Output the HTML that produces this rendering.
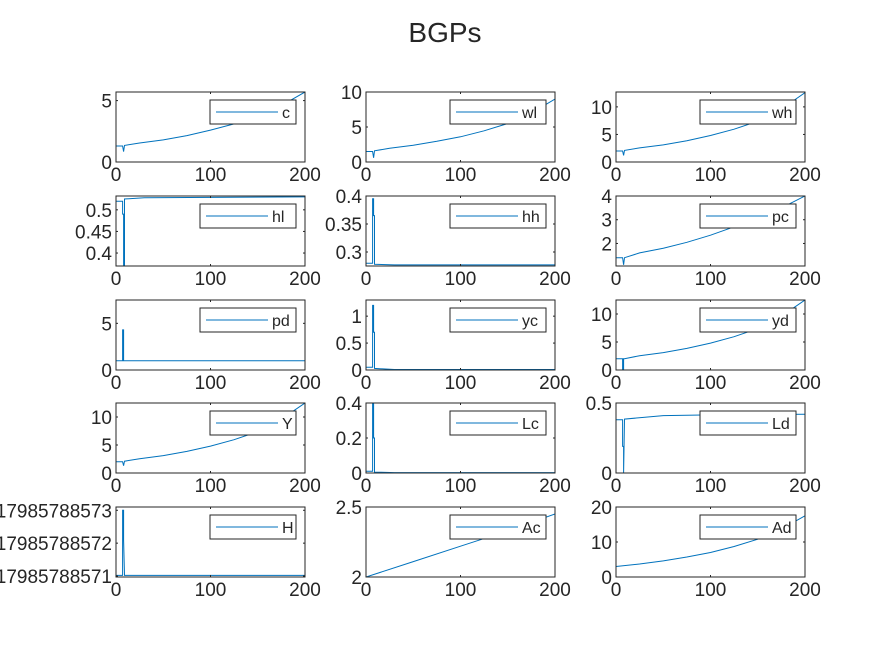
<!DOCTYPE html>
<html><head><meta charset="utf-8"><style>
body{margin:0;background:#fff;}
svg{display:block;font-family:"Liberation Sans","DejaVu Sans",sans-serif;}
</style></head><body>
<svg id="fig" width="891" height="645" viewBox="0 0 891 645">
<rect width="891" height="645" fill="#fff"/>
<text x="445" y="42" font-size="28" text-anchor="middle" fill="#262626">BGPs</text>
</svg>
<script>
// data per subplot: names, x points, y points, y limits, y ticks
const names = ["c","wl","wh","hl","hh","pc","pd","yc","yd","Y","Lc","Ld","H","Ac","Ad"];
const xs = [
 [0,7,8,9,25,50,75,100,125,150,175,200],
 [0,7,8,9,25,50,75,100,125,150,175,200],
 [0,7,8,9,25,50,75,100,125,150,175,200],
 [0,7,7,8,8,9,9,30,200],
 [0,7,7,8,8,9,9,30,200],
 [0,7,8,9,25,50,75,100,125,150,175,200],
 [0,7,7,8,8,9,200],
 [0,7,7,8,8,9,9,30,200],
 [0,7,7,8,8,9,25,50,75,100,125,150,175,200],
 [0,7,8,9,25,50,75,100,125,150,175,200],
 [0,7,7,8,8,9,9,30,200],
 [0,7,7,8,8,9,50,100,200],
 [0,7,7,8,8,9,200],
 [0,50,100,150,200],
 [0,25,50,75,100,125,150,175,200]
];
const ys = [
 [1.3,1.3,0.85,1.35,1.55,1.8,2.15,2.6,3.1,3.8,4.6,5.7],
 [1.5,1.5,0.6,1.6,1.95,2.4,2.95,3.6,4.45,5.5,7,9],
 [2,2,1.2,2.1,2.55,3.1,3.85,4.8,5.95,7.4,9.6,12.6],
 [0.52,0.52,0.49,0.49,0.37,0.37,0.525,0.528,0.53],
 [0.28,0.28,0.395,0.395,0.365,0.365,0.278,0.277,0.277],
 [1.4,1.4,1.1,1.4,1.6,1.8,2.05,2.35,2.7,3.1,3.5,4],
 [1,1,4.3,4.3,1,1,1],
 [0.05,0.05,1.2,1.2,0.7,0.7,0.03,0.01,0.01],
 [2,2,0,0,2,2,2.55,3.1,3.85,4.8,5.95,7.4,9.6,12.5],
 [2,2,1.3,2.1,2.55,3.1,3.85,4.8,5.95,7.4,9.6,12.5],
 [0.01,0.01,0.4,0.4,0.2,0.2,0.005,0.002,0.002],
 [0.38,0.38,0.19,0.19,0,0.385,0.41,0.415,0.42],
 [0.02,0.02,2,2,1.1,0.02,0.02],
 [2,2.11,2.22,2.33,2.45],
 [3,3.7,4.6,5.7,7,8.7,10.8,13.7,17.5]
];
const ylims = [[0,5.7],[0,10],[0,12.7],[0.37,0.532],[0.275,0.4],[1.05,4],[0,7.5],[0,1.3],[0,12.5],[0,12.5],[0,0.4],[0,0.5],[-0.03,2.1],[2,2.5],[0,20]];
const yticks = [[0,5],[0,5,10],[0,5,10],[0.4,0.45,0.5],[0.3,0.35,0.4],[2,3,4],[0,5],[0,0.5,1],[0,5,10],[0,5,10],[0,0.2,0.4],[0,0.5],[0,1,2],[2,2.5],[0,10,20]];
const ytickLabels = [["0","5"],["0","5","10"],["0","5","10"],["0.4","0.45","0.5"],["0.3","0.35","0.4"],["2","3","4"],["0","5"],["0","0.5","1"],["0","5","10"],["0","5","10"],["0","0.2","0.4"],["0","0.5"],["0.17985788571","0.17985788572","0.17985788573"],["2","2.5"],["0","10","20"]];
const xticks = [0,100,200];
const xtickLabels = ["0","100","200"];

const svg = document.getElementById('fig');
const NS = "http://www.w3.org/2000/svg";
const colL = [116,366,616], W = 189, rowT = [92,196,300,403,507], H = 70;
function mk(tag, attrs){const e=document.createElementNS(NS,tag);for(const k in attrs)e.setAttribute(k,attrs[k]);return e;}
names.forEach((nm,i)=>{
  const L = colL[i%3], T = rowT[Math.floor(i/3)];
  const g = mk('g',{});
  
  
  svg.appendChild(g);
  const [y0,y1] = ylims[i];
  const sx = v => L + v/200*W;
  const sy = v => T + H - (v-y0)/(y1-y0)*H;
  const clip = mk('clipPath',{id:'cl'+i}); clip.appendChild(mk('rect',{x:L,y:T,width:W,height:H})); g.appendChild(clip);
  let d = xs[i].map((x,k)=>(k?'L':'M')+sx(x).toFixed(1)+' '+sy(ys[i][k]).toFixed(1)).join(' ');
  const line = mk('path',{d:d,fill:'none',stroke:'#0072bd','stroke-width':1,'clip-path':'url(#cl'+i+')'});
  
  
  g.appendChild(line);
  const box = mk('rect',{x:L,y:T,width:W,height:H,fill:'none',stroke:'#262626','stroke-width':1});
  
  
  g.appendChild(box);
  xticks.forEach((t,k)=>{
    const x = sx(t);
    g.appendChild(mk('line',{x1:x,x2:x,y1:T+H,y2:T+H-2,stroke:'#262626'}));
    g.appendChild(mk('line',{x1:x,x2:x,y1:T,y2:T+2,stroke:'#262626'}));
    const tx = mk('text',{x:x,y:T+H+19,'font-size':19,'text-anchor':'middle',fill:'#262626'});
    tx.textContent = xtickLabels[k];
    
    
    g.appendChild(tx);
  });
  yticks[i].forEach((t,k)=>{
    const y = sy(t);
    g.appendChild(mk('line',{x1:L,x2:L+2,y1:y,y2:y,stroke:'#262626'}));
    g.appendChild(mk('line',{x1:L+W,x2:L+W-2,y1:y,y2:y,stroke:'#262626'}));
    const ty = mk('text',{x:L-4,y:y+7,'font-size':19,'text-anchor':'end',fill:'#262626'});
    ty.textContent = ytickLabels[i][k];
    
    
    g.appendChild(ty);
  });
  const tw = nm.length*10 + 2;
  const lw = 74 + tw, lr = L+W-9, ll = lr-lw, lt = T+8;
  const lg = mk('g',{});
  
  
  lg.appendChild(mk('rect',{x:ll,y:lt,width:lw,height:24,fill:'#fff',stroke:'#262626'}));
  lg.appendChild(mk('line',{x1:ll+6,x2:ll+68,y1:lt+12,y2:lt+12,stroke:'#0072bd'}));
  const lt2 = mk('text',{x:ll+72,y:lt+18,'font-size':16,fill:'#262626'});
  lt2.textContent = nm;
  lg.appendChild(lt2);
  g.appendChild(lg);
});
</script>
</body></html>
